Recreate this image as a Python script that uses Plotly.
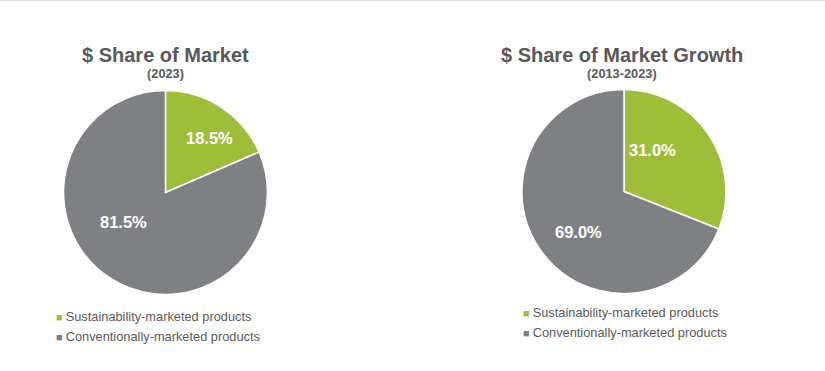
import plotly.graph_objects as go

labels = ["Sustainability-marketed products", "Conventionally-marketed products"]
share_2023 = [18.5, 81.5]
share_growth = [31.0, 69.0]
titles = ["$ Share of Market", "$ Share of Market Growth"]
subtitles = ["(2023)", "(2013-2023)"]

GREEN = "#9EBE3A"
GRAY = "#7E8083"
TXT = "#595959"
colors = [GREEN, GRAY]
FONT = "Liberation Sans, Arial, sans-serif"
W, H = 825, 371

fig = go.Figure()

domains = [
    dict(x=[0.0770, 0.3242], y=[0.2062, 0.7561]),
    dict(x=[0.6327, 0.8800], y=[0.2089, 0.7588]),
]
# pixel positions of the value labels inside the slices (layout only)
label_pos = [[(209.5, 138), (123.5, 222)], [(652, 150), (578, 232)]]

for k, (vals, dom) in enumerate(zip([share_2023, share_growth], domains)):
    fig.add_trace(go.Pie(
        labels=labels, values=vals, domain=dom,
        sort=False, direction="clockwise", rotation=0,
        marker=dict(colors=colors, line=dict(color="white", width=1.5)),
        textinfo="none",
        hoverinfo="label+value", showlegend=False,
    ))
    for v, (px, py) in zip(vals, label_pos[k]):
        fig.add_annotation(x=px / W, y=1 - py / H, xref="paper", yref="paper",
                           text=f"<b>{v:.1f}%</b>", showarrow=False,
                           font=dict(family=FONT, size=16.5, color="white"),
                           xanchor="center", yanchor="middle")

title_pos = [(165.5, 55, 73.5), (622, 55, 73.5)]
leg_pos = [(54, 316), (521, 312.5)]

for i in range(2):
    cx, ty, sy = title_pos[i]
    fig.add_annotation(x=cx / W, y=1 - ty / H, xref="paper", yref="paper",
                       text=f"<b>{titles[i]}</b>", showarrow=False,
                       font=dict(family=FONT, size=20, color=TXT),
                       xanchor="center", yanchor="middle")
    fig.add_annotation(x=cx / W, y=1 - sy / H, xref="paper", yref="paper",
                       text=f"<b>{subtitles[i]}</b>", showarrow=False,
                       font=dict(family=FONT, size=12.8, color=TXT),
                       xanchor="center", yanchor="middle")
    lx, ly = leg_pos[i]
    for j, lab in enumerate(labels):
        fig.add_annotation(x=lx / W, y=1 - (ly + 20 * j) / H, xref="paper", yref="paper",
                           text=f"<span style='color:{colors[j]};font-size:11px'>■ </span>{lab}",
                           showarrow=False, align="left",
                           font=dict(family=FONT, size=12.8, color=TXT),
                           xanchor="left", yanchor="middle")

fig.add_shape(type="line", xref="paper", yref="paper", x0=0, x1=1, y0=1, y1=1,
              line=dict(color="#E3E3E3", width=2))

fig.update_layout(width=W, height=H, margin=dict(l=0, r=0, t=0, b=0),
                  paper_bgcolor="white", plot_bgcolor="white")

fig.write_html("out.html", config={"displayModeBar": False},
               post_script="document.body.style.margin='0';")
